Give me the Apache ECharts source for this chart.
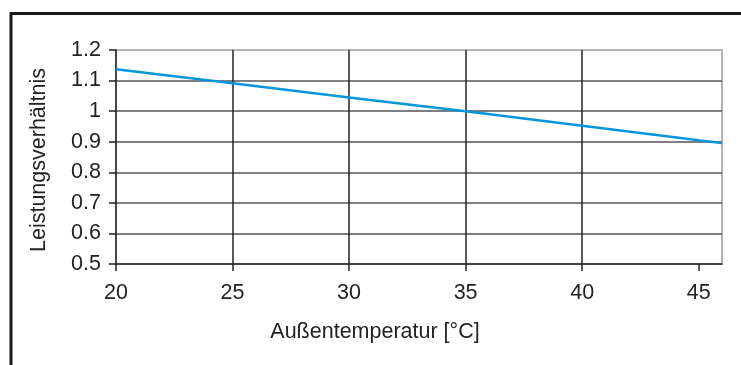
<!DOCTYPE html>
<html>
<head>
<meta charset="utf-8">
<script src="https://cdn.jsdelivr.net/npm/echarts@6/dist/echarts.min.js"></script>
<style>
html,body{margin:0;padding:0;background:#fff;}
#chart{width:741px;height:365px;}
</style>
</head>
<body>
<div id="chart"></div>
<script>
// Data
const temperatures = [20, 25, 30, 35, 40, 45, 46];
const ratios = [1.137, 1.091, 1.045, 1.0, 0.952, 0.905, 0.896];
const xTicks = [20, 25, 30, 35, 40, 45];
const xName = 'Außentemperatur [°C]';
const yName = 'Leistungsverhältnis';

const FONT = 'Liberation Sans, Arial, sans-serif';
const chart = echarts.init(document.getElementById('chart'), null, {renderer: 'canvas'});

const option = {
  animation: false,
  backgroundColor: '#ffffff',
  grid: {
    left: 116, right: 19, top: 50, bottom: 101,
    show: true, borderColor: '#b4b4b4', borderWidth: 2, backgroundColor: 'transparent'
  },
  xAxis: {
    type: 'value', min: 20, max: 46, interval: 5,
    axisLine: {show: true, lineStyle: {color: '#222', width: 1.5}},
    axisTick: {show: true, length: 7, customValues: xTicks, lineStyle: {color: '#222', width: 1.5}},
    axisLabel: {margin: 18, customValues: xTicks, color: '#222', fontSize: 21.5, fontFamily: FONT},
    splitLine: {show: true, showMaxLine: false, showMinLine: false, lineStyle: {color: '#222', width: 1.5}}
  },
  yAxis: {
    type: 'value', min: 0.5, max: 1.2, interval: 0.1,
    axisLine: {show: true, lineStyle: {color: '#222', width: 1.5}},
    axisTick: {show: true, length: 7, lineStyle: {color: '#222', width: 1.5}},
    axisLabel: {margin: 15, color: '#222', fontSize: 21.5, fontFamily: FONT,
      formatter: v => String(Math.round(v * 10) / 10)},
    splitLine: {show: true, showMaxLine: false, showMinLine: false, lineStyle: {color: '#555', width: 1.5}}
  },
  series: [{
    type: 'line',
    data: temperatures.map((t, i) => [t, ratios[i]]),
    showSymbol: false,
    lineStyle: {color: '#0096db', width: 2.5},
    z: 5
  }],
  graphic: [
    {type: 'line', shape: {x1: 10, y1: 13.5, x2: 741, y2: 13.5}, style: {stroke: '#1a1a1a', lineWidth: 3}},
    {type: 'line', shape: {x1: 11, y1: 12, x2: 11, y2: 365}, style: {stroke: '#1a1a1a', lineWidth: 3}},
    {type: 'text', x: 375, y: 332,
      style: {text: xName, fill: '#222', font: '21.5px ' + FONT, textAlign: 'center', textVerticalAlign: 'middle'}},
    {type: 'text', x: 39, y: 160, rotation: Math.PI / 2,
      style: {text: yName, fill: '#222', font: '21.5px ' + FONT, textAlign: 'center', textVerticalAlign: 'middle'}}
  ]
};
chart.setOption(option);
</script>
</body>
</html>
